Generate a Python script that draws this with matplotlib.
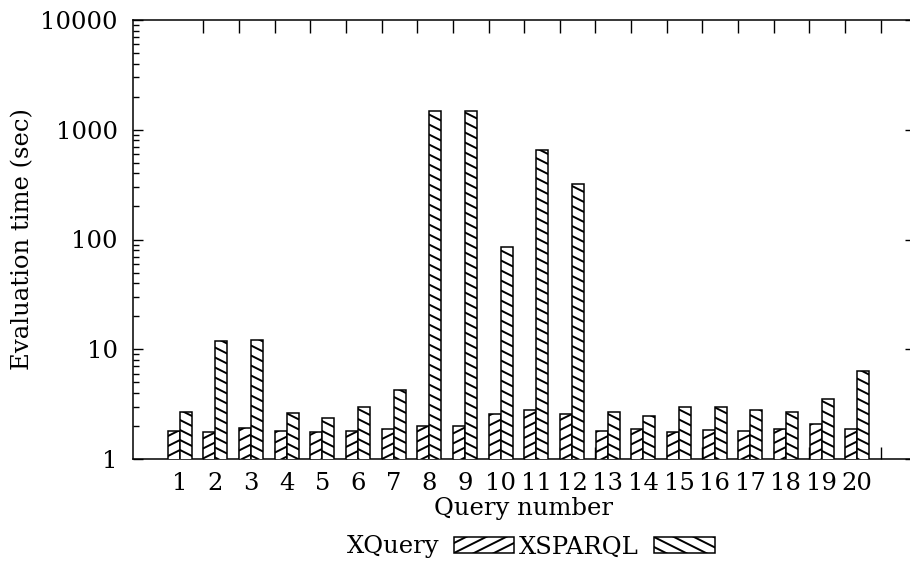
import numpy as np
import matplotlib
matplotlib.use("Agg")
import matplotlib.pyplot as plt
import matplotlib.hatch as mhatch
from matplotlib.path import Path
from matplotlib.ticker import LogLocator, NullFormatter

#Data (seconds, log axis)
queries = list(range(1, 21))
xquery = [1.80, 1.75, 1.92, 1.80, 1.77, 1.80, 1.89, 2.00, 2.00, 2.57,
          2.79, 2.55, 1.80, 1.89, 1.75, 1.85, 1.80, 1.88, 2.07, 1.88]
xsparql = [2.66, 11.9, 12.1, 2.62, 2.36, 2.96, 4.23, 1492, 1472, 86,
           650, 318, 2.68, 2.45, 2.96, 2.96, 2.79, 2.66, 3.54, 6.38]


#gnuplot style hatches: lines with slope 1/2 instead of 45 degrees
class ShallowNE(mhatch.HatchPatternBase):
    def __init__(self, hatch, density):
        n = 10 if '/' in hatch else 0
        self.offsets = np.arange(-n // 2, n + 1) / n if n else np.array([])
        self.num_vertices = 2 * len(self.offsets)

    def set_vertices_and_codes(self, vertices, codes):
        vertices[0::2, 0] = 0.0
        vertices[0::2, 1] = self.offsets
        vertices[1::2, 0] = 1.0
        vertices[1::2, 1] = self.offsets + 0.5
        codes[0::2] = Path.MOVETO
        codes[1::2] = Path.LINETO


class ShallowSE(mhatch.HatchPatternBase):
    def __init__(self, hatch, density):
        n = 10 if '\\' in hatch else 0
        self.offsets = np.arange(0, n + n // 2 + 1) / n if n else np.array([])
        self.num_vertices = 2 * len(self.offsets)

    def set_vertices_and_codes(self, vertices, codes):
        vertices[0::2, 0] = 0.0
        vertices[0::2, 1] = self.offsets
        vertices[1::2, 0] = 1.0
        vertices[1::2, 1] = self.offsets - 0.5
        codes[0::2] = Path.MOVETO
        codes[1::2] = Path.LINETO


mhatch._hatch_types[mhatch._hatch_types.index(mhatch.NorthEastHatch)] = ShallowNE
mhatch._hatch_types[mhatch._hatch_types.index(mhatch.SouthEastHatch)] = ShallowSE

plt.rcParams.update({
    "font.family": "DejaVu Serif",
    "font.size": 17.5,
    "hatch.linewidth": 1.4,
    "axes.linewidth": 1.1,
})

fig = plt.figure(figsize=(9.1, 5.61), dpi=100)
ax = fig.add_axes([133 / 910, 102 / 561, 782 / 910, 439 / 561])

x = np.array(queries)
w = 0.337
ax.bar(x - w / 2, xquery, w, color='white', edgecolor='black', hatch='/',
       lw=1.1, zorder=3, label='XQuery')
ax.bar(x + w / 2, xsparql, w, color='white', edgecolor='black', hatch='\\',
       lw=1.1, zorder=3, label='XSPARQL')

ax.set_yscale('log')
ax.set_ylim(1, 10000)
ax.set_xlim(-0.31, 21.62)

#y axis ticks, inside; right side only shows the decades
ax.set_yticks([1, 10, 100, 1000, 10000], ['1', '10', '100', '1000', '10000'])
ax.yaxis.set_minor_locator(LogLocator(base=10, subs=np.arange(2, 10)))
ax.yaxis.set_minor_formatter(NullFormatter())
ax.tick_params(axis='y', which='major', direction='in', left=True, right=True,
               length=7.5, width=1, pad=11)
ax.tick_params(axis='y', which='minor', direction='in', left=True, right=False,
               length=4.5, width=1)

#x labels at group centres, tick marks between groups
ax.set_xticks(x, [str(q) for q in queries])
ax.tick_params(axis='x', which='major', length=0, pad=9)
ax.set_xticks(x + 0.66, minor=True)
ax.tick_params(axis='x', which='minor', direction='in', length=9, width=1,
               top=True, bottom=True)

ax.set_ylabel('Evaluation time (sec)', labelpad=4)
ax.set_xlabel('Query number', labelpad=2)

ax.legend(loc='center', bbox_to_anchor=(0.583, 0.025), bbox_transform=fig.transFigure,
          ncol=2, frameon=False, markerfirst=False, handlelength=2.5,
          handleheight=0.66, handletextpad=0.6, columnspacing=0.2,
          borderpad=0, borderaxespad=0)

fig.savefig('out.png', dpi=100)
